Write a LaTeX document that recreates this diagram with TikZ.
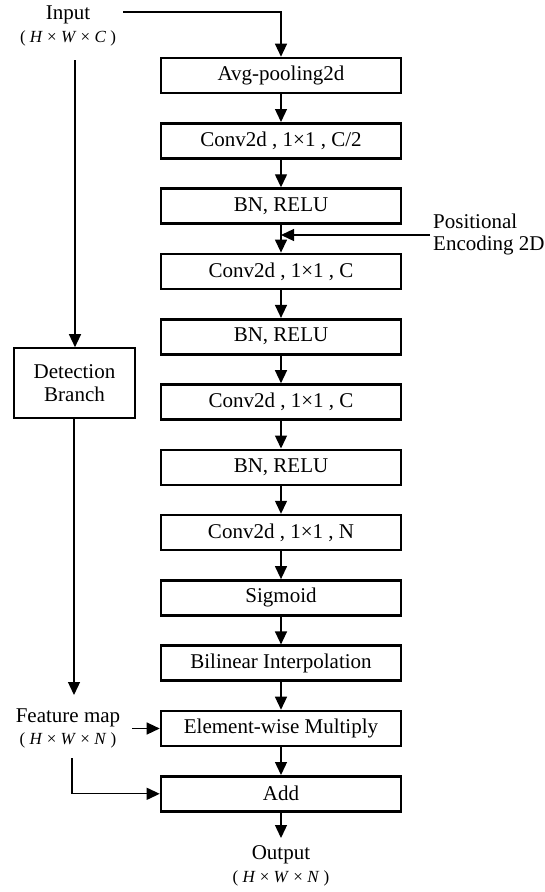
\documentclass[tikz,border=0pt]{standalone}
\usepackage{fontspec}
\setmainfont{Liberation Serif}
\usetikzlibrary{arrows.meta}
\begin{document}
\begin{tikzpicture}[x=1pt,y=-1pt,
  mainbox/.style={draw,line width=2.6pt,minimum width=240pt,minimum height=35pt,inner sep=0pt,font=\fontsize{21}{24}\selectfont},
  sidebox/.style={draw,line width=1.6pt,minimum width=121pt,minimum height=70pt,inner sep=0pt,align=center,font=\fontsize{21}{23}\selectfont},
  lbl/.style={inner sep=0pt,align=center,font=\fontsize{21}{22}\selectfont},
  dimlbl/.style={inner sep=0pt,font=\fontsize{17}{17}\selectfont},
  conn/.style={line width=1.3pt,-{Triangle[length=13pt,width=12pt]}}]
\useasboundingbox (0,0) rectangle (545,892);
% main column
\node[mainbox] (b0) at (281,75.5) {Avg-pooling2d};
\node[mainbox] (b1) at (281,140.8) {Conv2d , 1×1 , C/2};
\node[mainbox] (b2) at (281,206.1) {BN, RELU};
\node[mainbox] (b3) at (281,271.4) {Conv2d , 1×1 , C};
\node[mainbox] (b4) at (281,336.7) {BN, RELU};
\node[mainbox] (b5) at (281,402) {Conv2d , 1×1 , C};
\node[mainbox] (b6) at (281,467.3) {BN, RELU};
\node[mainbox] (b7) at (281,532.6) {Conv2d , 1×1 , N};
\node[mainbox] (b8) at (281,597.9) {Sigmoid};
\node[mainbox] (b9) at (281,663.2) {Bilinear Interpolation};
\node[mainbox] (b10) at (281,728.5) {Element-wise Multiply};
\node[mainbox] (b11) at (281,793.8) {Add};
% labels
\node[lbl] (inp) at (68,15) {Input};
\node[dimlbl] (inpd) at (68,38) {( \textit{H} × \textit{W} × \textit{C} )};
\node[sidebox] (det) at (74.5,383) {Detection\\Branch};
\node[lbl] (fm) at (68,718) {Feature map};
\node[dimlbl] (fmd) at (68,740) {( \textit{H} × \textit{W} × \textit{N} )};
\node[lbl] (out) at (281,855) {Output};
\node[dimlbl] (outd) at (281,878) {( \textit{H} × \textit{W} × \textit{N} )};
\node[lbl,align=left,anchor=west] (pe) at (433,234) {Positional\\Encoding 2D};
% coordinates
\coordinate (inR) at (123,12);
\coordinate (inB) at (75,60);
\coordinate (detEnd) at (74,695);
\coordinate (fmR) at (132,728.5);
\coordinate (fmB) at (72,758);
\coordinate (peL) at (430,235);
\coordinate (outT) at (281,838);
% connectors
\draw[conn] (inR) -| (b0.north);
\foreach \a/\b in {b0/b1,b1/b2,b2/b3,b3/b4,b4/b5,b5/b6,b6/b7,b7/b8,b8/b9,b9/b10,b10/b11}
  \draw[conn] (\a.south) -- (\b.north);
\draw[conn] (peL) -- (b2.south |- peL);
\draw[conn] (b11.south) -- (outT);
\draw[conn] (inB) -- (inB |- det.north);
\draw[conn] (det.south -| detEnd) -- (detEnd);
\draw[conn] (fmR) -- (b10.west);
\draw[conn] (fmB) |- (b11.west);
\end{tikzpicture}
\end{document}
